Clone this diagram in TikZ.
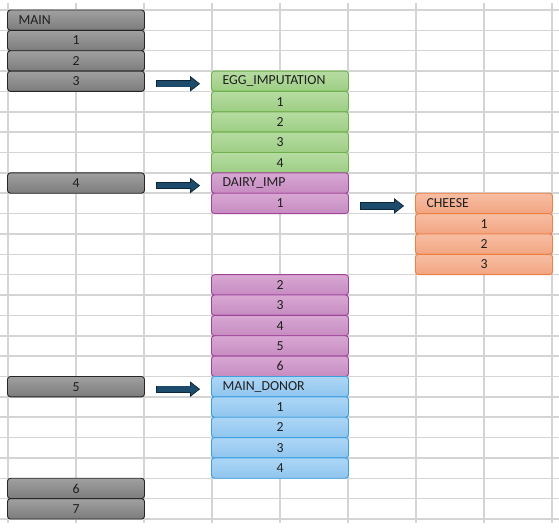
\documentclass[tikz,border=0pt]{standalone}
\usepackage{fontspec}
\setmainfont{Carlito}
\usetikzlibrary{arrows.meta}
\definecolor{gridc}{HTML}{D4D4D4}
\definecolor{grayT}{HTML}{A0A0A0}
\definecolor{grayB}{HTML}{7C7C7C}
\definecolor{grayL}{HTML}{262626}
\definecolor{greenT}{HTML}{B6DCA2}
\definecolor{greenB}{HTML}{9DCE84}
\definecolor{greenL}{HTML}{6FB04A}
\definecolor{purT}{HTML}{D8A8D3}
\definecolor{purB}{HTML}{C68BC1}
\definecolor{purL}{HTML}{A0449B}
\definecolor{orT}{HTML}{F7BEA4}
\definecolor{orB}{HTML}{F2A581}
\definecolor{orL}{HTML}{EE7F43}
\definecolor{bluT}{HTML}{ADD6F6}
\definecolor{bluB}{HTML}{8FC5EE}
\definecolor{bluL}{HTML}{3DA0E0}
\definecolor{arrF}{HTML}{1D4B6B}
\definecolor{arrL}{HTML}{0E2738}
\definecolor{txt}{HTML}{1F1F1F}
\tikzset{
  gridline/.style={draw=gridc, line width=1.5pt},
  cellbase/.style={rectangle, rounded corners=3pt, line width=0.9pt,
    minimum width=137pt, minimum height=20.36pt, inner xsep=11pt, inner ysep=0pt,
    text width=115pt, font=\fontsize{13.8}{14}\selectfont, text=txt},
  head/.style={align=left},
  num/.style={align=center},
  graybox/.style={cellbase, draw=grayL, top color=grayT, bottom color=grayB},
  greenbox/.style={cellbase, draw=greenL, top color=greenT, bottom color=greenB},
  purbox/.style={cellbase, draw=purL, top color=purT, bottom color=purB},
  orbox/.style={cellbase, draw=orL, top color=orT, bottom color=orB},
  blubox/.style={cellbase, draw=bluL, top color=bluT, bottom color=bluB},
  fatarrow/.style={draw=arrL, line width=7.2pt, shorten <=11pt, shorten >=11pt,
    -{Triangle[length=10pt, width=15.5pt, line width=0.7pt, fill=arrF, color=arrL]},
    postaction={draw=arrF, line width=5.8pt, -{}, shorten <=11.7pt, shorten >=20pt}}
}
\newcommand\cellbox[5]{\node[#1] (#2) at ({76+68*#3},{10+20.36*(#4+0.5)}) {#5};}
\begin{document}
\begin{tikzpicture}[x=1pt,y=-1pt]
\useasboundingbox (0,0) rectangle (559,531);
\fill[white] (0,0) rectangle (559,531);
\foreach \j in {0,...,8} \draw[gridline] ({8+68*\j},3) -- ({8+68*\j},523);
\foreach \k in {0,...,25} \draw[gridline] (0,{10+20.36*\k}) -- (559,{10+20.36*\k});
% MAIN column
\cellbox{graybox,head}{m0}{0}{0}{MAIN}
\cellbox{graybox,num}{m1}{0}{1}{1}
\cellbox{graybox,num}{m2}{0}{2}{2}
\cellbox{graybox,num}{m3}{0}{3}{3}
\cellbox{graybox,num}{m4}{0}{8}{4}
\cellbox{graybox,num}{m5}{0}{18}{5}
\cellbox{graybox,num}{m6}{0}{23}{6}
\cellbox{graybox,num}{m7}{0}{24}{7}
% EGG
\cellbox{greenbox,head}{e0}{3}{3}{EGG\_IMPUTATION}
\cellbox{greenbox,num}{e1}{3}{4}{1}
\cellbox{greenbox,num}{e2}{3}{5}{2}
\cellbox{greenbox,num}{e3}{3}{6}{3}
\cellbox{greenbox,num}{e4}{3}{7}{4}
% DAIRY
\cellbox{purbox,head}{d0}{3}{8}{DAIRY\_IMP}
\cellbox{purbox,num}{d1}{3}{9}{1}
\cellbox{purbox,num}{d2}{3}{13}{2}
\cellbox{purbox,num}{d3}{3}{14}{3}
\cellbox{purbox,num}{d4}{3}{15}{4}
\cellbox{purbox,num}{d5}{3}{16}{5}
\cellbox{purbox,num}{d6}{3}{17}{6}
% CHEESE
\cellbox{orbox,head}{c0}{6}{9}{CHEESE}
\cellbox{orbox,num}{c1}{6}{10}{1}
\cellbox{orbox,num}{c2}{6}{11}{2}
\cellbox{orbox,num}{c3}{6}{12}{3}
% MAIN_DONOR
\cellbox{blubox,head}{b0}{3}{18}{MAIN\_DONOR}
\cellbox{blubox,num}{b1}{3}{19}{1}
\cellbox{blubox,num}{b2}{3}{20}{2}
\cellbox{blubox,num}{b3}{3}{21}{3}
\cellbox{blubox,num}{b4}{3}{22}{4}
% arrows
\draw[fatarrow] ([yshift=-2.5pt]m3.east) -- ([yshift=-2.5pt]e0.west);
\draw[fatarrow] ([yshift=-2.5pt]m4.east) -- ([yshift=-2.5pt]d0.west);
\draw[fatarrow] ([yshift=-2.5pt]d1.east) -- ([yshift=-2.5pt]c0.west);
\draw[fatarrow] ([yshift=-2.5pt]m5.east) -- ([yshift=-2.5pt]b0.west);
\end{tikzpicture}
\end{document}
